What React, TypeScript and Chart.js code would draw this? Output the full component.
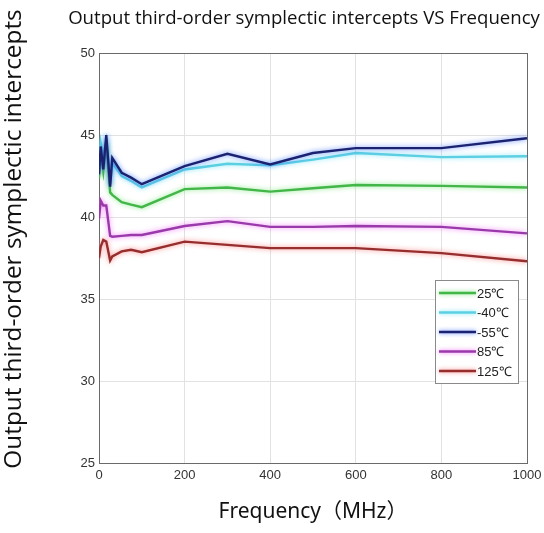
import React, { useEffect, useRef } from "react";
import { Chart, registerables } from "chart.js";

Chart.register(...registerables);

// ---------- data ----------
const chartTitle = "Output third-order symplectic intercepts VS Frequency";
const yAxisTitle = "Output third-order symplectic intercepts";
const xAxisTitle = "Frequency（MHz）";

const frequencyMHz = [0, 4, 10, 17, 26, 31, 53, 75, 100, 200, 300, 400, 500, 600, 800, 1000];

const seriesLabels = ["25℃", "-40℃", "-55℃", "85℃", "125℃"];
const values25C = [42.4, 44.0, 42.8, 44.6, 41.5, 41.35, 40.9, 40.75, 40.6, 41.7, 41.8, 41.55, 41.75, 41.95, 41.9, 41.8];
const valuesMinus40C = [43.0, 44.5, 43.6, 44.6, 42.0, 43.3, 42.5, 42.2, 41.8, 42.9, 43.25, 43.15, 43.5, 43.9, 43.65, 43.7];
const valuesMinus55C = [42.6, 44.3, 42.9, 45.0, 41.85, 43.6, 42.7, 42.4, 42.0, 43.1, 43.85, 43.2, 43.9, 44.2, 44.2, 44.8];
const values85C = [39.9, 41.0, 40.7, 40.7, 38.85, 38.8, 38.85, 38.9, 38.9, 39.45, 39.75, 39.4, 39.4, 39.45, 39.4, 39.0];
const values125C = [37.5, 38.2, 38.6, 38.5, 37.35, 37.6, 37.9, 38.0, 37.85, 38.5, 38.3, 38.1, 38.1, 38.1, 37.8, 37.3];

const seriesValues = [values25C, valuesMinus40C, valuesMinus55C, values85C, values125C];
const seriesColors = ["#43b649", "#5cd0e2", "#1b2270", "#9a3aaa", "#962e2e"];
const seriesGlow = ["rgba(120,230,120,0.9)", "rgba(120,230,250,0.9)", "rgba(60,110,255,0.8)", "rgba(240,110,250,0.9)", "rgba(250,120,120,0.9)"];
const seriesOrder = [1, 2, -1, 3, 4];

const yMin = 25;
const yMax = 50;
const yStep = 5;
const xMin = 0;
const xMax = 1000;
const xStep = 200;

// ---------- plugins ----------
const glowPlugin = {
  id: "glow",
  beforeDatasetDraw(chart: any, args: any) {
    const ctx = chart.ctx;
    ctx.save();
    ctx.shadowColor = seriesGlow[args.index];
    ctx.shadowBlur = 5;
  },
  afterDatasetDraw(chart: any) {
    chart.ctx.restore();
  },
};

const framePlugin = {
  id: "frame",
  beforeDatasetsDraw(chart: any) {
    const { ctx, chartArea: a } = chart;
    ctx.save();
    ctx.strokeStyle = "#6a6a6a";
    ctx.lineWidth = 1;
    ctx.strokeRect(Math.round(a.left) + 0.5, Math.round(a.top) + 0.5, Math.round(a.right - a.left), Math.round(a.bottom - a.top));
    ctx.restore();
  },
};

const textPlugin = {
  id: "texts",
  afterDraw(chart: any) {
    const { ctx, chartArea: a } = chart;
    ctx.save();
    ctx.fillStyle = "#111";
    ctx.font = '18.6px "Open Sans", "Noto Sans", sans-serif';
    ctx.textAlign = "center";
    ctx.textBaseline = "middle";
    ctx.fillText(chartTitle, 304, 19);

    ctx.translate(14, 239);
    ctx.rotate(-Math.PI / 2);
    ctx.font = '24.4px "Open Sans", "Noto Sans", sans-serif';
    ctx.fillText(yAxisTitle, 0, 0);
    ctx.restore();

    // legend
    const boxRight = a.right - 9;
    const boxTop = a.top + 227;
    const boxW = 83;
    const boxH = 103;
    const boxLeft = boxRight - boxW;
    ctx.save();
    ctx.fillStyle = "#ffffff";
    ctx.fillRect(boxLeft, boxTop, boxW, boxH);
    ctx.strokeStyle = "#8a8a8a";
    ctx.lineWidth = 1;
    ctx.strokeRect(Math.round(boxLeft) + 0.5, Math.round(boxTop) + 0.5, boxW, boxH);
    ctx.font = '13px "Liberation Sans Narrow", "Arial Narrow", "Liberation Sans", sans-serif';
    ctx.textAlign = "left";
    ctx.textBaseline = "middle";
    seriesLabels.forEach((lab, i) => {
      const y = boxTop + 13 + i * 19.5;
      ctx.save();
      ctx.shadowColor = seriesGlow[i];
      ctx.shadowBlur = 4;
      ctx.strokeStyle = seriesColors[i];
      ctx.lineWidth = 2.5;
      ctx.beginPath();
      ctx.moveTo(boxLeft + 4, y);
      ctx.lineTo(boxLeft + 41, y);
      ctx.stroke();
      ctx.restore();
      ctx.fillStyle = "#222";
      ctx.fillText(lab, boxLeft + 42, y + 1);
    });
    ctx.restore();
  },
};

export default function App() {
  const canvasRef = useRef<HTMLCanvasElement | null>(null);

  useEffect(() => {
    document.body.style.margin = "0";
    const canvas = canvasRef.current;
    if (!canvas) return;

    const datasets = seriesLabels.map((label, i) => ({
      label,
      data: frequencyMHz.map((f, j) => ({ x: f, y: seriesValues[i][j] })),
      borderColor: seriesColors[i],
      backgroundColor: seriesColors[i],
      borderWidth: 2.4,
      pointRadius: 0,
      tension: 0,
      fill: false,
      order: seriesOrder[i],
    }));

    const tickFont = { family: '"Liberation Sans", Arial, sans-serif', size: 13 };

    const chart = new Chart(canvas, {
      type: "line",
      data: { datasets },
      options: {
        animation: false,
        responsive: false,
        layout: { padding: { top: 53, right: 17, bottom: 0, left: 0 } },
        plugins: {
          legend: { display: false },
          title: { display: false },
          tooltip: { enabled: false },
        },
        scales: {
          x: {
            type: "linear",
            min: xMin,
            max: xMax,
            ticks: {
              stepSize: xStep,
              color: "#333",
              font: tickFont,
              padding: 5,
              maxRotation: 0,
              callback: (v: any) => String(v),
            },
            grid: { color: "#e2e2e2", drawTicks: false },
            border: { display: false },
            title: {
              display: true,
              text: xAxisTitle,
              color: "#111",
              font: { family: '"Noto Sans", "Noto Sans CJK SC", sans-serif', size: 21 },
              padding: { top: 0, bottom: 8 },
            },
            afterFit(scale: any) {
              scale.height = 70;
              scale.paddingRight = 14;
            },
          },
          y: {
            min: yMin,
            max: yMax,
            ticks: { stepSize: yStep, color: "#333", font: tickFont, padding: 4, callback: (v: any) => String(v) },
            grid: { color: "#e2e2e2", drawTicks: false },
            border: { display: false },
            afterFit(scale: any) {
              scale.width = 99;
            },
          },
        },
      },
      plugins: [glowPlugin, framePlugin, textPlugin],
    });

    return () => chart.destroy();
  }, []);

  return (
    <div style={{ width: 544, height: 533, background: "#fff" }}>
      <canvas ref={canvasRef} width={544} height={533} />
    </div>
  );
}
